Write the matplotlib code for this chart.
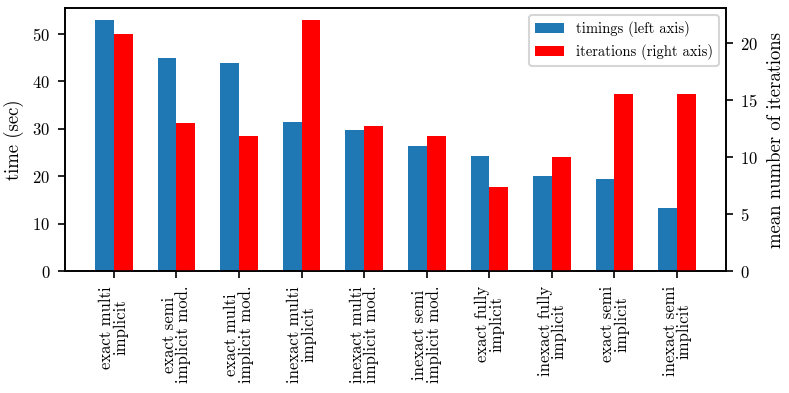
import numpy as np
import matplotlib
matplotlib.use('Agg')
import matplotlib.pyplot as plt

# computer modern look, shipped with matplotlib
plt.rcParams['font.family'] = ['cmr10', 'DejaVu Serif']
plt.rcParams['mathtext.fontset'] = 'cm'
plt.rcParams['axes.formatter.use_mathtext'] = True
plt.rcParams['font.size'] = 8

methods = [
    'exact multi\nimplicit',
    'exact semi\nimplicit mod.',
    'exact multi\nimplicit mod.',
    'inexact multi\nimplicit',
    'inexact multi\nimplicit mod.',
    'inexact semi\nimplicit mod.',
    'exact fully\nimplicit',
    'inexact fully\nimplicit',
    'exact semi\nimplicit',
    'inexact semi\nimplicit',
]
timings = [52.8, 44.9, 43.8, 31.5, 29.7, 26.4, 24.2, 20.0, 19.4, 13.2]
iterations = [20.85, 13.0, 11.9, 22.0, 12.75, 11.9, 7.35, 10.0, 15.5, 15.5]

x = np.arange(len(methods))
width = 0.3

fig, ax = plt.subplots(figsize=(5.26, 2.62), dpi=150)
ax2 = ax.twinx()

b1 = ax.bar(x - width / 2, timings, width, color='tab:blue', label='timings (left axis)')
b2 = ax2.bar(x + width / 2, iterations, width, color='red', label='iterations (right axis)')

ax.set_ylabel('time (sec)', fontsize=9)
ax2.set_ylabel('mean number of iterations', fontsize=9)
ax.set_xticks(x)
ax.set_xticklabels(methods, rotation=90, multialignment='center', fontsize=8, linespacing=0.9)
ax.set_yticks([0, 10, 20, 30, 40, 50])
ax2.set_yticks([0, 5, 10, 15, 20])

ax2.legend([b1, b2], [b1.get_label(), b2.get_label()], loc='upper right', fontsize=7)

fig.subplots_adjust(left=0.0824, right=0.920, top=0.98, bottom=0.31)
fig.savefig('out.png', dpi=150)
